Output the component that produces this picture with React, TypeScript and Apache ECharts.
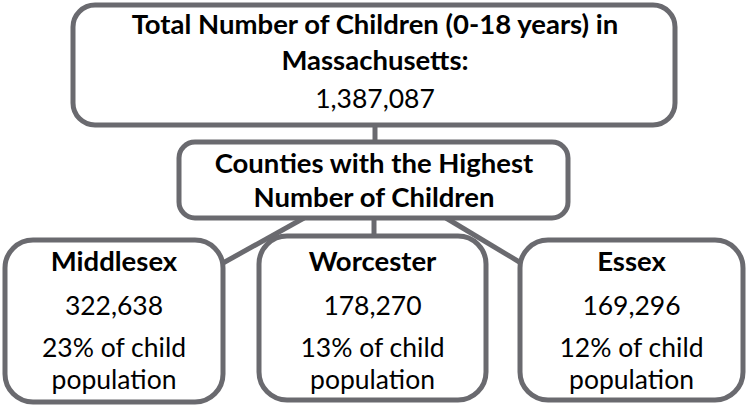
import React, { useEffect, useRef } from "react";
import * as echarts from "echarts";

// ---- data ----
const titleLines = ["Total Number of Children (0-18 years) in", "Massachusetts:"];
const totalChildren = 1387087;
const subtitleLines = ["Counties with the Highest", "Number of Children"];
const counties = ["Middlesex", "Worcester", "Essex"];
const countyChildren = [322638, 178270, 169296];
const countyShares = [23, 13, 12];

const fmt = (n: number) => n.toLocaleString("en-US");

const GRAY = "#6a6a6f";
const FONT = "Lato, 'Open Sans', sans-serif";

export default function App() {
  const ref = useRef<HTMLDivElement>(null);

  useEffect(() => {
    if (!ref.current) return;
    const chart = echarts.init(ref.current, undefined, { renderer: "svg" });

    const boxStyle = { fill: "#ffffff", stroke: GRAY, lineWidth: 5 };
    const lineStyle = { stroke: GRAY, lineWidth: 5 };

    const txt = (text: string, x: number, y: number, size: number, bold: boolean) => ({
      type: "text",
      z: 10,
      style: {
        text,
        x,
        y,
        fill: "#000000",
        font: `${bold ? "bold " : ""}${size}px ${FONT}`,
        textAlign: "center",
        textVerticalAlign: "middle",
        align: "center",
        verticalAlign: "middle",
      },
    });

    const bottomBoxes = [
      { x: 5, y: 240, w: 218, h: 162 },
      { x: 259, y: 236, w: 227, h: 164 },
      { x: 520, y: 240, w: 223, h: 160 },
    ];

    const elements: any[] = [];

    // connectors (drawn first, under boxes)
    elements.push({ type: "line", z: 1, shape: { x1: 375, y1: 124, x2: 375, y2: 143 }, style: lineStyle });
    elements.push({ type: "line", z: 1, shape: { x1: 374, y1: 217, x2: 374, y2: 237 }, style: lineStyle });
    elements.push({ type: "line", z: 1, shape: { x1: 304, y1: 218, x2: 223, y2: 263 }, style: lineStyle });
    elements.push({ type: "line", z: 1, shape: { x1: 446, y1: 218, x2: 521, y2: 263 }, style: lineStyle });

    const B = 27.5;
    const R = 26.5;

    // top box
    elements.push({ type: "rect", z: 2, shape: { x: 73, y: 5, width: 602, height: 120, r: 22 }, style: boxStyle });
    elements.push(txt(titleLines[0], 375, 23, B, true));
    elements.push(txt(titleLines[1], 375, 59, B, true));
    elements.push(txt(fmt(totalChildren), 375, 98, R, false));

    // middle box
    elements.push({ type: "rect", z: 2, shape: { x: 179, y: 142, width: 389, height: 76, r: 16 }, style: boxStyle });
    elements.push(txt(subtitleLines[0], 374, 162, B, true));
    elements.push(txt(subtitleLines[1], 374, 196, B, true));

    // county boxes
    counties.forEach((name, i) => {
      const b = bottomBoxes[i];
      const cx = b.x + b.w / 2;
      elements.push({ type: "rect", z: 2, shape: { x: b.x, y: b.y, width: b.w, height: b.h, r: 28 }, style: boxStyle });
      elements.push(txt(name, cx, 260, B, true));
      elements.push(txt(fmt(countyChildren[i]), cx, 305, R, false));
      elements.push(txt(`${countyShares[i]}% of child`, cx, 347, R, false));
      elements.push(txt("population", cx, 379, R, false));
    });

    chart.setOption({
      animation: false,
      backgroundColor: "#ffffff",
      graphic: { elements },
    });

    return () => chart.dispose();
  }, []);

  return (
    <div
      ref={ref}
      style={{ position: "fixed", left: 0, top: 0, width: 746, height: 406, background: "#fff" }}
    />
  );
}
